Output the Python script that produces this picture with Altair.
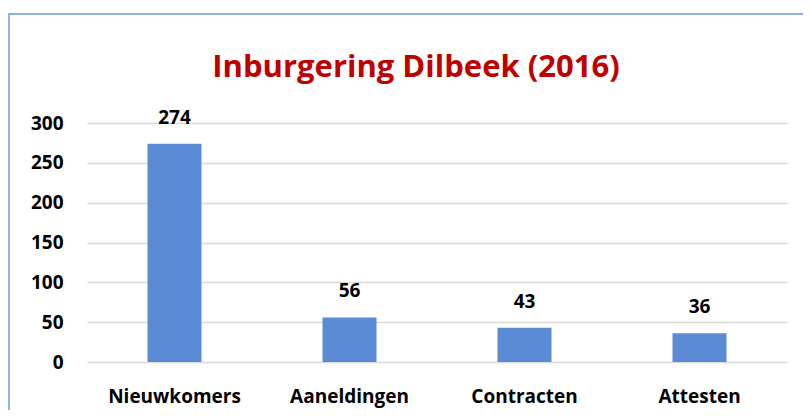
import altair as alt
import pandas as pd

categories = ["Nieuwkomers", "Aaneldingen", "Contracten", "Attesten"]
values = [274, 56, 43, 36]
y_ticks = [0, 50, 100, 150, 200, 250, 300]

df = pd.DataFrame({"cat": categories, "val": values})

FONT = "Open Sans"

base = alt.Chart(df).encode(
    x=alt.X("cat:N", sort=categories, title=None,
            scale=alt.Scale(paddingInner=0.69, paddingOuter=0.345),
            axis=alt.Axis(labelAngle=0, domain=False, ticks=False, labelPadding=25,
                          labelFont=FONT, labelFontWeight="bold", labelFontSize=19,
                          labelColor="#000000")),
    y=alt.Y("val:Q", title=None,
            scale=alt.Scale(domain=[0, 300], nice=False),
            axis=alt.Axis(values=y_ticks, domain=False, ticks=False, labelPadding=24,
                          labelFont=FONT, labelFontWeight="bold", labelFontSize=19,
                          labelColor="#000000", gridColor="#D9D9D9", gridWidth=1.5)),
)

bars = base.mark_bar(color="#5B8BD5", size=54)
labels = base.mark_text(dy=-20, baseline="alphabetic", font=FONT, fontWeight="bold",
                        fontSize=19, color="#000000").encode(text="val:Q")

border = alt.Chart(pd.DataFrame({"a": [0]})).mark_rect(
    fill="transparent", stroke="#6E96DA", strokeWidth=1.5, clip=False
).encode(x=alt.value(-78), x2=alt.value(760), y=alt.value(-109), y2=alt.value(320))

chart = alt.layer(border, bars, labels).properties(
    width=700, height=239,
    title=alt.TitleParams("Inburgering Dilbeek (2016)", font=FONT, fontSize=31,
                          fontWeight="bold", color="#C00000", anchor="middle",
                          baseline="alphabetic", offset=-95, dx=-21),
    autosize=alt.AutoSizeParams(type="none"),
    padding={"left": 79, "top": 115, "right": 16, "bottom": 48},
).configure_view(stroke=None)

chart.save("out.html", embed_options={"renderer": "svg", "actions": False})
